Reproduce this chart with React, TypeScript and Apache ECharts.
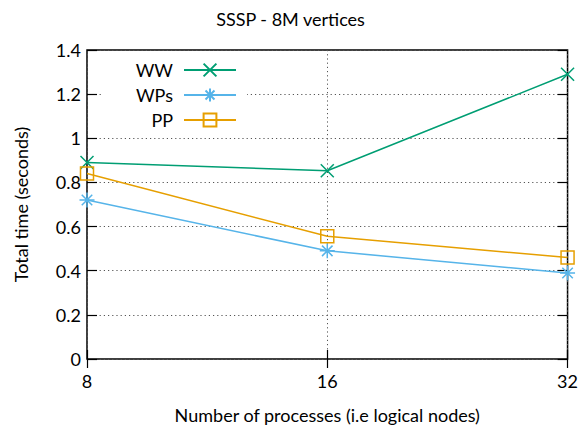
import React, { useEffect, useRef } from "react";
import * as echarts from "echarts";

const categories = ["8", "16", "32"];
const wwValues = [0.89, 0.853, 1.29];
const wpsValues = [0.72, 0.49, 0.39];
const ppValues = [0.84, 0.556, 0.46];
const yTicks = { min: 0, max: 1.4, interval: 0.2 };

const FONT = "Lato";
const FS = 18;
const X_PATH = "path://M0 0 L10 10 M10 0 L0 10";
const STAR_PATH = "path://M5 0 L5 10 M0 5 L10 5 M1.5 1.5 L8.5 8.5 M8.5 1.5 L1.5 8.5";

export default function App() {
  const ref = useRef<HTMLDivElement>(null);
  useEffect(() => {
    if (!ref.current) return;
    const chart = echarts.init(ref.current, undefined, { renderer: "svg" });
    const gridLine = { show: true, lineStyle: { color: "#555", width: 1, type: [1.2, 3] } };
    const mk = (name: string, data: number[], color: string, symbol: string, size: number) => ({
      name,
      type: "line",
      data,
      symbol,
      symbolSize: size,
      showAllSymbol: true,
      lineStyle: { color, width: 1.5 },
      itemStyle: { color: "none", borderColor: color, borderWidth: 1.5 },
      z: 3,
    });
    chart.setOption({
      animation: false,
      textStyle: { fontFamily: FONT },
      title: {
        text: "SSSP - 8M vertices",
        left: "center",
        top: 5,
        textStyle: { fontFamily: FONT, fontSize: FS, fontWeight: "normal", color: "#000" },
      },
      legend: {
        orient: "vertical",
        right: 339,
        top: 56,
        align: "right",
        itemWidth: 52,
        itemHeight: 16,
        itemGap: 7,
        textStyle: { fontFamily: FONT, fontSize: FS, color: "#000", padding: [0, 6, 0, 0] },
        data: ["WW", "WPs", "PP"],
      },
      grid: {
        left: 87,
        right: 13,
        top: 50,
        bottom: 79,
        show: true,
        borderColor: "#000",
        borderWidth: 1.5,
      },
      xAxis: [
        {
          type: "category",
          data: categories,
          boundaryGap: false,
          position: "bottom",
          axisLine: { show: false },
          axisTick: { show: true, inside: true, length: 9, lineStyle: { color: "#000", width: 1.2 } },
          axisLabel: { fontFamily: FONT, fontSize: FS, color: "#000", margin: 13 },
          splitLine: gridLine,
          name: "Number of processes (i.e logical nodes)",
          nameLocation: "middle",
          nameGap: 47,
          nameTextStyle: { fontFamily: FONT, fontSize: FS, color: "#000" },
        },
        {
          type: "category",
          data: categories,
          boundaryGap: false,
          position: "top",
          axisLine: { show: false },
          axisTick: { show: true, inside: true, length: 9, lineStyle: { color: "#000", width: 1.2 } },
          axisLabel: { show: false },
          splitLine: { show: false },
        },
      ],
      yAxis: [
        {
          type: "value",
          ...yTicks,
          position: "left",
          axisLine: { show: false },
          axisTick: { show: true, inside: true, length: 10, lineStyle: { color: "#000", width: 1.2 } },
          axisLabel: { fontFamily: FONT, fontSize: FS, color: "#000", margin: 6 },
          splitLine: gridLine,
          name: "Total time (seconds)",
          nameLocation: "middle",
          nameGap: 57,
          nameTextStyle: { fontFamily: FONT, fontSize: FS, color: "#000" },
        },
        {
          type: "value",
          ...yTicks,
          position: "right",
          axisLine: { show: false },
          axisTick: { show: true, inside: true, length: 10, lineStyle: { color: "#000", width: 1.2 } },
          axisLabel: { show: false },
          splitLine: { show: false },
        },
      ],
      graphic: [
        {
          type: "rect",
          shape: { x: 101, y: 52, width: 146, height: 80 },
          style: { fill: "#fff" },
          z: 1,
          silent: true,
        },
      ],
      series: [
        mk("WW", wwValues, "#009e73", X_PATH, 13),
        mk("WPs", wpsValues, "#56b4e9", STAR_PATH, 15),
        mk("PP", ppValues, "#e69f00", "rect", 13),
      ],
    });
    return () => chart.dispose();
  }, []);
  return (
    <div
      ref={ref}
      style={{ position: "absolute", left: 0, top: 0, width: 581, height: 438 }}
    />
  );
}
